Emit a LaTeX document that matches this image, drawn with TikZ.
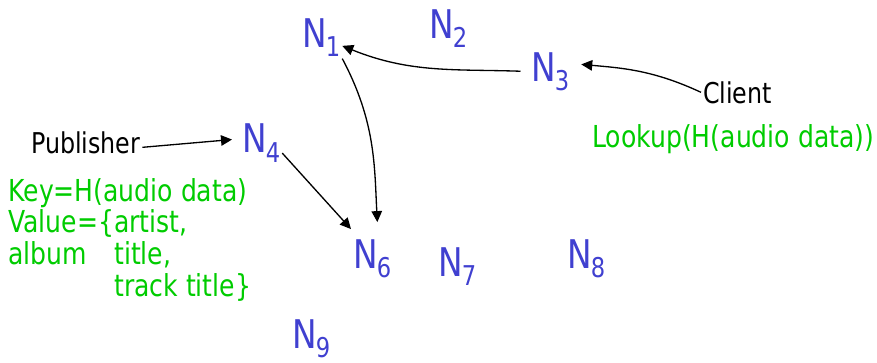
\documentclass[tikz,border=0pt]{standalone}
\usepackage{fontspec}
\setmainfont{DejaVu Sans}[FakeStretch=0.83]
\usepackage{xcolor}
\usepackage{tikz}
\usetikzlibrary{arrows.meta}

\definecolor{peerblue}{RGB}{64,64,208}
\definecolor{infogreen}{RGB}{0,204,0}
\newcommand{\Nsub}[1]{N\kern-0.5pt\lower0.19cm\hbox{\fontsize{15.5}{15.5}\selectfont #1}}

\begin{document}
\begin{tikzpicture}[
    peer/.style={text=peerblue, font=\fontsize{22.5}{22.5}\selectfont,
                 inner sep=1pt, anchor=base west},
    role/.style={font=\fontsize{16.3}{17}\selectfont, inner sep=1pt,
                 anchor=base west},
    info/.style={text=infogreen, font=\fontsize{17.2}{17.1}\selectfont,
                 inner sep=0pt, anchor=base west},
    arrow/.style={-{Triangle[length=2.2mm, width=2.1mm]}, line width=0.75pt}]
  \useasboundingbox (0,0) rectangle (17.54,-7.24);
  \node[peer] (n1) at (6.00,-0.94) {\Nsub{1}};
  \node[peer] (n2) at (8.54,-0.76) {\Nsub{2}};
  \node[peer] (n3) at (10.58,-1.62) {\Nsub{3}};
  \node[peer] (n4) at (4.80,-3.05) {\Nsub{4}};
  \node[peer] (n6) at (7.02,-5.36) {\Nsub{6}};
  \node[peer] (n7) at (8.72,-5.52) {\Nsub{7}};
  \node[peer] (n8) at (11.30,-5.36) {\Nsub{8}};
  \node[peer] (n9) at (5.80,-6.96) {\Nsub{9}};
  \node[role] (pub) at (0.58,-3.06) {Publisher};
  \node[role] (client) at (14.02,-2.06) {Client};
  \node[info] (lookup) at (11.84,-2.94) {Lookup(H(audio data))};
  \node[info] (keyval) at (0.16,-4.02) {%
    \begin{tabular}[t]{@{}l@{}l@{}}
      \multicolumn{2}{@{}l@{}}{Key=H(audio data)}\\
      Value=\{ & artist,\\
      album & title,\\
      & track title\}
    \end{tabular}};
  \draw[arrow, shorten <=0.17cm] (n3.west) to[out=178, in=-22] (n1);
  \draw[arrow, shorten >=0.2cm] (client.west) to[out=155, in=-5] ([yshift=0.16cm]n3.east);
  \draw[arrow, shorten >=0.3cm] (n1.south east) to[out=-62, in=93] ([xshift=0.12cm]n6.north);
  \draw[arrow, shorten >=0.16cm] ([yshift=-0.1cm]pub.east) -- ([yshift=0.08cm]n4.west);
  \draw[arrow] ([yshift=0.22cm]n4.south east) -- ([yshift=0.16cm]n6.north west);
\end{tikzpicture}
\end{document}
